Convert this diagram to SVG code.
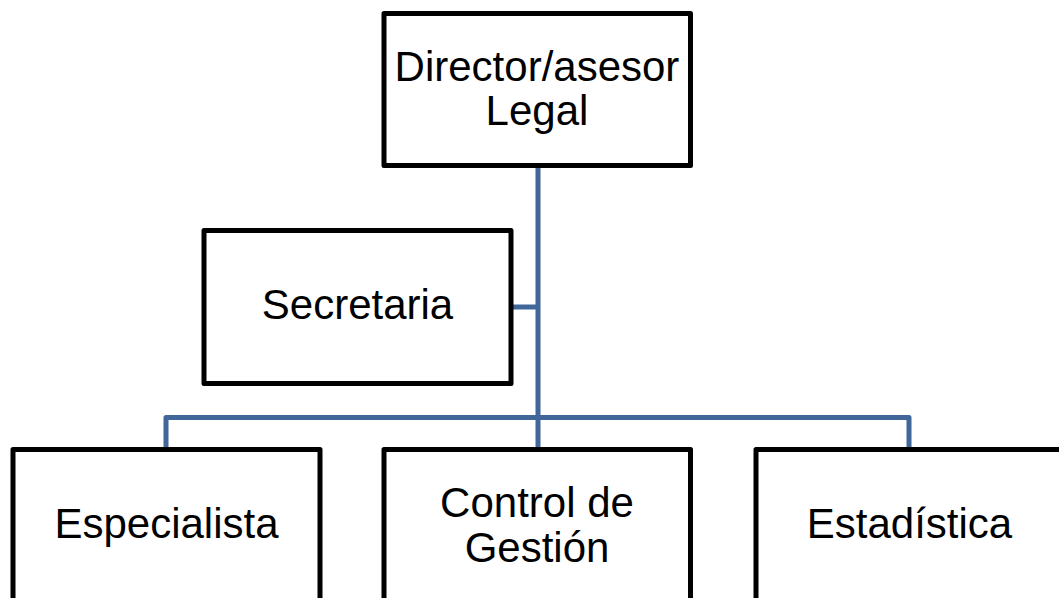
<svg xmlns="http://www.w3.org/2000/svg" width="1059" height="598" viewBox="0 0 1059 598">
<style>
.box{fill:#fff;stroke:#000;stroke-width:5;stroke-linejoin:round}
.lbl{font-family:"Liberation Sans",Arial,sans-serif;font-size:42px;fill:#000;text-anchor:middle}
.conn{fill:none;stroke:#41679A;stroke-width:5;stroke-linejoin:round}
</style>
<rect width="1059" height="598" fill="#fff"/>
<g id="connectors">
<path class="conn" d="M538 166V417"/>
<path class="conn" d="M511 307H538"/>
<path class="conn" d="M166 449V417.5H909V449"/>
<path class="conn" d="M538 417V449"/>
</g>
<g id="director">
<rect class="box" x="384" y="13.5" width="306.5" height="152"/>
<text class="lbl" x="537" y="81">Director/asesor</text>
<text class="lbl" x="537" y="125">Legal</text>
</g>
<g id="secretaria">
<rect class="box" x="204" y="230.5" width="307" height="153"/>
<text class="lbl" x="357.5" y="319">Secretaria</text>
</g>
<g id="especialista">
<rect class="box" x="13" y="449.5" width="307" height="160"/>
<text class="lbl" x="166.5" y="538">Especialista</text>
</g>
<g id="control">
<rect class="box" x="384" y="449.5" width="306.5" height="160"/>
<text class="lbl" x="537" y="517">Control de</text>
<text class="lbl" x="537" y="562">Gestión</text>
</g>
<g id="estadistica">
<rect class="box" x="756" y="449.5" width="307" height="160"/>
<text class="lbl" x="909.5" y="538">Estadística</text>
</g>
</svg>
